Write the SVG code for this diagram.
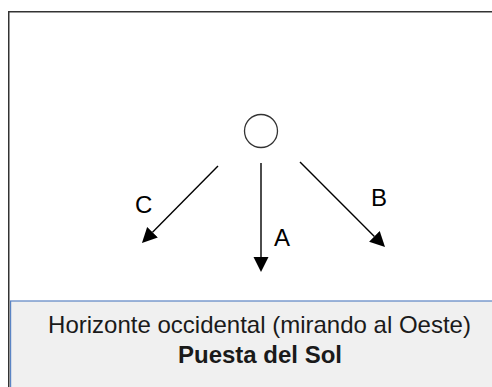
<svg xmlns="http://www.w3.org/2000/svg" width="492" height="387" viewBox="0 0 492 387">
  <style>
    .frame { fill: #ffffff; stroke: #333333; stroke-width: 1.5; }
    .panel { fill: #f0f0f0; stroke: #5b84c4; stroke-width: 1.2; }
    .sun { fill: #ffffff; stroke: #333333; stroke-width: 1.3; }
    .conn { stroke: #000000; stroke-width: 1.4; fill: none; }
    .lbl { font-family: "Liberation Sans", Arial, sans-serif; font-size: 24px; fill: #000000; }
    .cap { font-family: "Liberation Sans", Arial, sans-serif; font-size: 24px; fill: #1a1a1a; text-anchor: middle; }
  </style>
  <defs>
    <marker id="ah" markerUnits="userSpaceOnUse" markerWidth="16" markerHeight="16" refX="0" refY="7.5" orient="auto">
      <path d="M0,0 L15,7.5 L0,15 Z" fill="#000000"/>
    </marker>
  </defs>
  <rect width="492" height="387" fill="#ffffff"/>
  <g id="frame">
    <rect class="frame" x="8.75" y="11.75" width="500" height="400"/>
  </g>
  <g id="panel">
    <rect class="panel" x="10.6" y="301" width="500" height="100"/>
    <text class="cap" x="259.5" y="333">Horizonte occidental (mirando al Oeste)</text>
    <text class="cap" x="260" y="363" font-weight="bold">Puesta del Sol</text>
  </g>
  <g id="sun">
    <circle class="sun" cx="261" cy="131" r="16.5"/>
  </g>
  <g id="connectors">
    <line class="conn" x1="261" y1="163" x2="261" y2="257" marker-end="url(#ah)"/>
    <line class="conn" x1="218" y1="166" x2="152.5" y2="232.3" marker-end="url(#ah)"/>
    <line class="conn" x1="300" y1="162" x2="374.4" y2="236.4" marker-end="url(#ah)"/>
  </g>
  <g id="labels">
    <text class="lbl" x="135" y="213">C</text>
    <text class="lbl" x="371" y="206">B</text>
    <text class="lbl" x="274" y="246">A</text>
  </g>
</svg>
